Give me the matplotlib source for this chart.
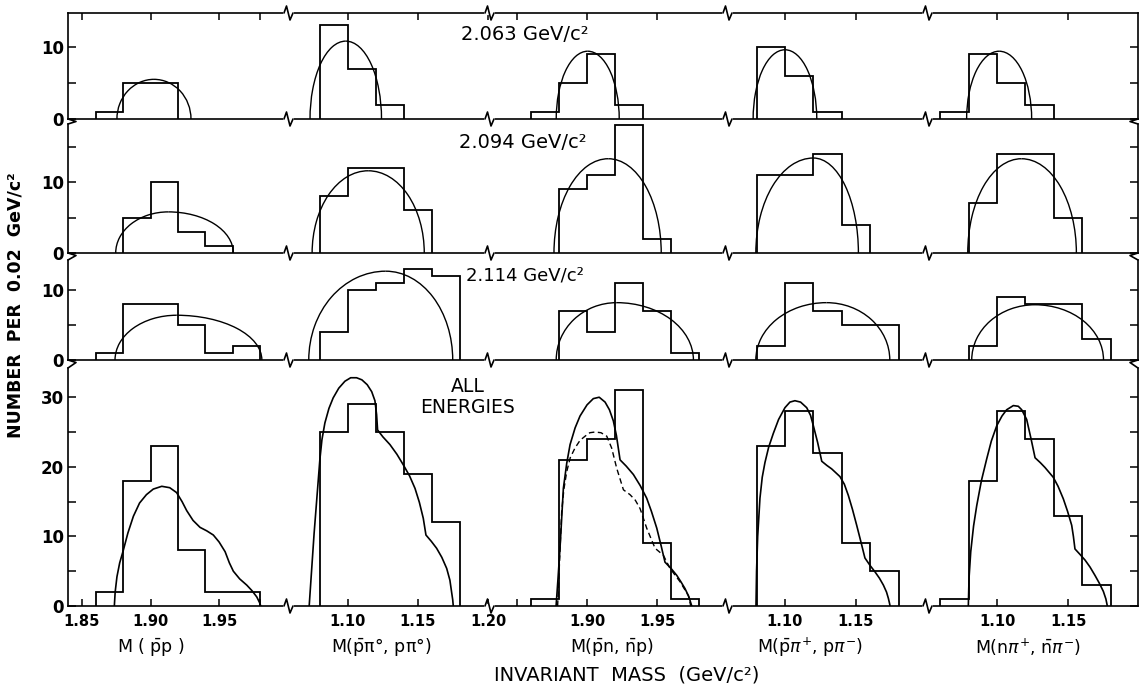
import matplotlib
matplotlib.use("Agg")
import matplotlib.pyplot as plt
from matplotlib.lines import Line2D
from matplotlib.patches import Arc

# ---------------- data ----------------
# columns: M(pbar p), M(pbar pi0, p pi0), M(pbar n, nbar p), M(pbar pi+, p pi-), M(n pi+, nbar pi-)
col_xlims = [(1.8398, 2.001), (1.058, 1.2014), (1.8307, 2.0007), (1.0599, 1.2007), (1.0514, 1.1993)]
col_ticks = [[1.85, 1.90, 1.95, 1.98], [1.10, 1.15, 1.20], [1.85, 1.90, 1.95], [1.10, 1.15], [1.10, 1.15]]
col_ticklabels = [["1.85", "1.90", "1.95", ""], ["1.10", "1.15", "1.20"], ["", "1.90", "1.95"],
                  ["1.10", "1.15"], ["1.10", "1.15"]]
col_titles = [r"M ( $\bar{\mathrm{p}}$p )", r"M($\bar{\mathrm{p}}$π°, pπ°)", r"M($\bar{\mathrm{p}}$n, $\bar{\mathrm{n}}$p)",
              r"M($\bar{\mathrm{p}}\pi^{+}$, p$\pi^{-}$)", r"M(n$\pi^{+}$, $\bar{\mathrm{n}}\pi^{-}$)"]
col_title_x = [1.90, 1.1236, 1.9179, 1.1176, 1.1218]

row_labels = ["2.063 GeV/c²", "2.094 GeV/c²", "2.114 GeV/c²", "ALL\nENERGIES"]
row_ymax = [14.7, 18.2, 14.3, 34.2]
row_yticks = [[0, 5, 10], [0, 5, 10, 15], [0, 5, 10], [0, 5, 10, 15, 20, 25, 30]]
row_yticklabels = [["0", "", "10"], ["0", "", "10", ""], ["0", "", "10"],
                   ["0", "", "10", "", "20", "", "30"]]

# histograms: row 1 (2.063)
h1c1_edges = [1.86, 1.88, 1.90, 1.92];             h1c1 = [1, 5, 5]
h1c2_edges = [1.08, 1.10, 1.12, 1.14];             h1c2 = [13, 7, 2]
h1c3_edges = [1.86, 1.88, 1.90, 1.92, 1.94];       h1c3 = [1, 5, 9, 2]
h1c4_edges = [1.08, 1.10, 1.12, 1.14];             h1c4 = [10, 6, 1]
h1c5_edges = [1.06, 1.08, 1.10, 1.12, 1.14];       h1c5 = [1, 9, 5, 2]
# row 2 (2.094)
h2c1_edges = [1.88, 1.90, 1.92, 1.94, 1.96];       h2c1 = [5, 10, 3, 1]
h2c2_edges = [1.08, 1.10, 1.12, 1.14, 1.16];       h2c2 = [8, 12, 12, 6]
h2c3_edges = [1.88, 1.90, 1.92, 1.94, 1.96];       h2c3 = [9, 11, 18, 2]
h2c4_edges = [1.08, 1.10, 1.12, 1.14, 1.16];       h2c4 = [11, 11, 14, 4]
h2c5_edges = [1.08, 1.10, 1.12, 1.14, 1.16];       h2c5 = [7, 14, 14, 5]
# row 3 (2.114)
h3c1_edges = [1.86, 1.88, 1.90, 1.92, 1.94, 1.96, 1.98]; h3c1 = [1, 8, 8, 5, 1, 2]
h3c2_edges = [1.08, 1.10, 1.12, 1.14, 1.16, 1.18];       h3c2 = [4, 10, 11, 13, 12]
h3c3_edges = [1.88, 1.90, 1.92, 1.94, 1.96, 1.98];       h3c3 = [7, 4, 11, 7, 1]
h3c4_edges = [1.08, 1.10, 1.12, 1.14, 1.16, 1.18];       h3c4 = [2, 11, 7, 5, 5]
h3c5_edges = [1.08, 1.10, 1.12, 1.14, 1.16, 1.18];       h3c5 = [2, 9, 8, 8, 3]
# row 4 (all energies)
h4c1_edges = [1.86, 1.88, 1.90, 1.92, 1.94, 1.96, 1.98]; h4c1 = [2, 18, 23, 8, 2, 2]
h4c2_edges = [1.08, 1.10, 1.12, 1.14, 1.16, 1.18];       h4c2 = [25, 29, 25, 19, 12]
h4c3_edges = [1.86, 1.88, 1.90, 1.92, 1.94, 1.96, 1.98]; h4c3 = [1, 21, 24, 31, 9, 1]
h4c4_edges = [1.08, 1.10, 1.12, 1.14, 1.16, 1.18];       h4c4 = [23, 28, 22, 9, 5]
h4c5_edges = [1.06, 1.08, 1.10, 1.12, 1.14, 1.16, 1.18]; h4c5 = [1, 18, 28, 24, 13, 3]

# phase-space curves of the single-energy rows (dome shapes): start, peak position, peak height, end
ps_start = [[1.8755, 1.073, 1.878, 1.0776, 1.0786],
            [1.8746, 1.0745, 1.8764, 1.0795, 1.0794],
            [1.8741, 1.0721, 1.878, 1.0795, 1.0822]]
ps_peak_x = [[1.9025, 1.0985, 1.9005, 1.100, 1.1015],
             [1.913, 1.1145, 1.9152, 1.12, 1.1172],
             [1.919, 1.127, 1.9212, 1.1292, 1.1268]]
ps_peak_y = [[5.5, 10.8, 9.4, 9.6, 9.4],
             [5.8, 11.6, 13.3, 13.4, 13.3],
             [6.4, 12.7, 8.2, 8.2, 7.9]]
ps_end = [[1.9295, 1.124, 1.923, 1.1224, 1.1244],
          [1.9604, 1.1545, 1.953, 1.1517, 1.1559],
          [1.9812, 1.1748, 1.976, 1.1738, 1.175]]

# fitted curves of the "all energies" row
c4c1_x = [1.8736, 1.8742, 1.8755, 1.8775, 1.880, 1.8835, 1.8875, 1.892, 1.897, 1.902, 1.9082, 1.914,
          1.919, 1.923, 1.9264, 1.931, 1.9361, 1.941, 1.9458, 1.950, 1.9544, 1.9575, 1.9604, 1.965,
          1.9702, 1.974, 1.9775, 1.9795, 1.9804]
c4c1_y = [0, 2.0, 4.2, 6.2, 7.9, 10.5, 12.9, 14.8, 16.0, 16.8, 17.2, 17.0, 16.3, 15.0, 13.7, 12.3,
          11.3, 10.8, 10.2, 9.2, 7.8, 6.2, 5.0, 3.9, 3.0, 2.2, 1.3, 0.5, 0]
c4c2_x = [1.0724, 1.0759, 1.08, 1.0815, 1.0836, 1.0865, 1.0895, 1.0935, 1.0979, 1.102, 1.1062, 1.110,
          1.1138, 1.117, 1.1193, 1.1205, 1.1212, 1.125, 1.13, 1.135, 1.1395, 1.144, 1.1479, 1.151,
          1.1538, 1.1557, 1.1595, 1.1633, 1.167, 1.1705, 1.1728, 1.174, 1.1748, 1.1752]
c4c2_y = [0, 10.4, 21.0, 23.9, 26.3, 28.4, 29.9, 31.3, 32.3, 32.8, 32.8, 32.5, 31.8, 30.8, 29.5, 27.5,
          25.3, 24.3, 23.2, 21.8, 20.3, 18.7, 16.9, 14.9, 12.6, 10.2, 9.3, 8.3, 7.0, 5.4, 3.7, 2.0,
          0.9, 0]
c4c3_x = [1.8779, 1.8793, 1.8807, 1.8831, 1.8855, 1.8879, 1.8915, 1.895, 1.900, 1.9045, 1.9087,
          1.9129, 1.916, 1.9188, 1.921, 1.9236, 1.928, 1.9331, 1.938, 1.9426, 1.946, 1.9498, 1.953,
          1.9557, 1.960, 1.9641, 1.967, 1.970, 1.9728, 1.9748]
c4c3_y = [0, 4.0, 8.3, 16.9, 20.5, 23.2, 25.6, 27.3, 28.9, 29.8, 30.0, 29.3, 28.2, 26.6, 24.5, 21.0,
          20.1, 18.9, 17.3, 15.5, 13.6, 11.2, 8.6, 6.3, 5.4, 4.4, 3.5, 2.5, 1.3, 0]
c4c3d_x = [1.879, 1.8805, 1.8819, 1.8835, 1.8855, 1.888, 1.8914, 1.895, 1.8986, 1.902, 1.9057, 1.910,
           1.9141, 1.9176, 1.9212, 1.926, 1.9307, 1.9345, 1.9379, 1.9426, 1.9486, 1.9545, 1.9593,
           1.9664, 1.9724, 1.9741]
c4c3d_y = [0, 7.0, 13.6, 16.8, 19.3, 21.3, 22.7, 23.8, 24.4, 24.9, 25.0, 24.9, 24.4, 22.7, 19.8, 16.7,
           16.0, 15.2, 14.0, 11.2, 8.3, 7.3, 5.4, 3.5, 1.5, 0]
c4c4_x = [1.0796, 1.0800, 1.0808, 1.0824, 1.084, 1.0859, 1.0885, 1.0918, 1.0955, 1.10, 1.1035, 1.107,
          1.111, 1.1153, 1.118, 1.12, 1.123, 1.1259, 1.1295, 1.1329, 1.1387, 1.1418, 1.1446, 1.1475,
          1.1505, 1.1535, 1.1563, 1.160, 1.1634, 1.1665, 1.1693, 1.1715, 1.1728, 1.1736, 1.174]
c4c4_y = [0, 5.0, 10.0, 15.5, 18.5, 20.6, 22.8, 24.8, 26.8, 28.5, 29.3, 29.5, 29.3, 28.5, 27.4, 25.9,
          23.5, 20.8, 20.2, 19.7, 18.6, 17.5, 15.9, 13.9, 11.6, 9.2, 6.9, 5.8, 4.9, 4.0, 3.0, 2.0,
          1.1, 0.4, 0]
c4c5_x = [1.0798, 1.0803, 1.0815, 1.0835, 1.0857, 1.089, 1.0927, 1.096, 1.0998, 1.1035, 1.1068,
          1.1115, 1.115, 1.1174, 1.1209, 1.124, 1.1268, 1.1305, 1.1338, 1.1396, 1.143, 1.1467,
          1.1497, 1.1526, 1.1538, 1.1549, 1.1585, 1.162, 1.1655, 1.169, 1.172, 1.1749, 1.1767, 1.1777]
c4c5_y = [0, 4.0, 7.8, 11.5, 14.4, 18.0, 21.1, 23.7, 25.9, 27.3, 28.2, 28.8, 28.7, 28.2, 26.8, 24.0,
          21.3, 20.6, 19.9, 18.5, 17.2, 15.4, 13.6, 11.6, 10.0, 8.2, 7.4, 6.6, 5.6, 4.4, 3.3, 2.1,
          1.0, 0]

hists = [
    [(h1c1_edges, h1c1), (h1c2_edges, h1c2), (h1c3_edges, h1c3), (h1c4_edges, h1c4), (h1c5_edges, h1c5)],
    [(h2c1_edges, h2c1), (h2c2_edges, h2c2), (h2c3_edges, h2c3), (h2c4_edges, h2c4), (h2c5_edges, h2c5)],
    [(h3c1_edges, h3c1), (h3c2_edges, h3c2), (h3c3_edges, h3c3), (h3c4_edges, h3c4), (h3c5_edges, h3c5)],
    [(h4c1_edges, h4c1), (h4c2_edges, h4c2), (h4c3_edges, h4c3), (h4c4_edges, h4c4), (h4c5_edges, h4c5)],
]
all_curves = [(c4c1_x, c4c1_y), (c4c2_x, c4c2_y), (c4c3_x, c4c3_y), (c4c4_x, c4c4_y), (c4c5_x, c4c5_y)]

# ---------------- layout (pixels) ----------------
W, H = 1143, 689
col_px = [68, 289, 490, 728, 928, 1138]
row_px = [(13, 119), (124, 253), (260, 360), (368, 606)]

plt.rcParams['font.family'] = 'DejaVu Sans'
fig = plt.figure(figsize=(W / 100, H / 100), dpi=100)


def fx(x):
    return x / W


def fy(y):
    return 1 - y / H


LW_SP = 1.2
for r, (yt, yb) in enumerate(row_px):
    for c in range(5):
        x0, x1 = col_px[c], col_px[c + 1]
        ax = fig.add_axes([fx(x0), fy(yb), (x1 - x0) / W, (yb - yt) / H])
        ax.set_xlim(*col_xlims[c])
        ax.set_ylim(0, row_ymax[r])
        for s in ax.spines.values():
            s.set_linewidth(LW_SP)
            s.set_color('black')
        ax.spines['left'].set_visible(c == 0)
        ax.spines['right'].set_visible(c == 4)
        ax.spines['top'].set_visible(r == 0)
        # x ticks
        ax.set_xticks(col_ticks[c])
        if r == 3:
            ax.set_xticklabels(col_ticklabels[c], fontweight='bold')
        else:
            ax.set_xticklabels([""] * len(col_ticks[c]))
        ax.tick_params(axis='x', direction='in', length=5, width=1.1,
                       top=(r == 0), bottom=(r == 3), labelbottom=(r == 3), labeltop=False,
                       labelsize=10.5, pad=6)
        # y ticks
        ax.set_yticks(row_yticks[r])
        if c == 0:
            ax.set_yticklabels(row_yticklabels[r], fontweight='bold')
        else:
            ax.set_yticklabels([""] * len(row_yticks[r]))
        ax.tick_params(axis='y', direction='in', length=6, width=1.1,
                       left=(c == 0), right=(c == 4), labelleft=(c == 0), labelright=False,
                       labelsize=12, pad=3)
        ax.patch.set_alpha(0)

        edges, vals = hists[r][c]
        ax.stairs(vals, edges, baseline=0, color='black', linewidth=1.3, fill=False, clip_on=False)
        if r < 3:
            s0, px, py, s1 = ps_start[r][c], ps_peak_x[r][c], ps_peak_y[r][c], ps_end[r][c]
            ax.add_patch(Arc((px, 0), 2 * (px - s0), 2 * py, theta1=90, theta2=180,
                             edgecolor='black', linewidth=1.0))
            ax.add_patch(Arc((px, 0), 2 * (s1 - px), 2 * py, theta1=0, theta2=90,
                             edgecolor='black', linewidth=1.0))
        else:
            cx, cy = all_curves[c]
            ax.plot(cx, cy, color='black', linewidth=1.2, solid_joinstyle='round')
            if c == 2:
                ax.plot(c4c3d_x, c4c3d_y, color='black', linewidth=1.0, linestyle=(0, (4, 2.5)))
            ax.annotate(col_titles[c], xy=(col_title_x[c], 0), xycoords=('data', 'axes fraction'),
                        xytext=(0, -41), textcoords='offset pixels', ha='center', va='center',
                        fontsize=12.5)

# ---------------- break marks ----------------
def draw_line(pts, lw=1.2, color='black'):
    xs = [fx(p[0]) for p in pts]
    ys = [fy(p[1]) for p in pts]
    fig.add_artist(Line2D(xs, ys, transform=fig.transFigure, color=color, linewidth=lw,
                          solid_joinstyle='round', solid_capstyle='round'))


spine_levels = [row_px[0][0]] + [yb for (_, yb) in row_px]
for yl in spine_levels:
    for xb in col_px[1:5]:
        draw_line([(xb - 4, yl), (xb + 3, yl)], lw=3.0, color='white')
        draw_line([(xb - 5, yl), (xb - 2.5, yl - 7), (xb + 1, yl + 7), (xb + 4, yl)])

for r in range(3):
    yb = row_px[r][1]
    yt = row_px[r + 1][0]
    draw_line([(col_px[0], yb), (col_px[0] + 8, yb + 2.5), (col_px[0], yt)])
    draw_line([(col_px[5], yb), (col_px[5] - 8, yb + 2.5), (col_px[5], yt)])

# ---------------- texts ----------------
label_pos = [(525, 35), (523, 143), (525, 276)]
label_size = [14, 14, 13]
for (x, y), s, fs in zip(label_pos, row_labels[:3], label_size):
    fig.text(fx(x), fy(y), s, ha='center', va='center', fontsize=fs)
fig.text(fx(468), fy(397), row_labels[3], ha='center', va='center', fontsize=13.5,
         linespacing=1.1)

fig.text(fx(627), fy(675), "INVARIANT  MASS  (GeV/c²)", ha='center', va='center', fontsize=14)
fig.text(fx(16), fy(305), "NUMBER  PER  0.02  GeV/c²", ha='center', va='center', fontsize=12.5,
         rotation=90, fontweight='bold')

fig.savefig("out.png", dpi=100)
